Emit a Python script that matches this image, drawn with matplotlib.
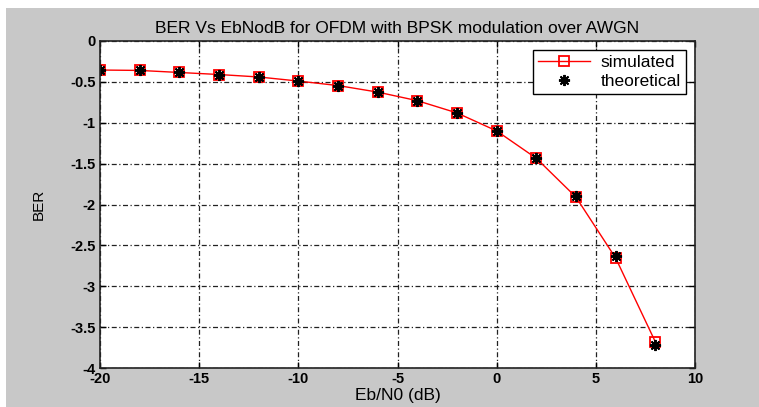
import matplotlib.pyplot as plt
from matplotlib.patches import Rectangle

# Eb/N0 en dB y BER (log10)
ebno_db = [-20, -18, -16, -14, -12, -10, -8, -6, -4, -2, 0, 2, 4, 6, 8]
ber_sim = [-0.355, -0.36, -0.385, -0.41, -0.44, -0.49, -0.545, -0.625, -0.73,
           -0.88, -1.10, -1.435, -1.91, -2.655, -3.68]
ber_teo = [-0.353, -0.36, -0.385, -0.41, -0.44, -0.49, -0.545, -0.625, -0.73,
           -0.88, -1.10, -1.43, -1.90, -2.625, -3.72]
x_ticks = [-20, -15, -10, -5, 0, 5, 10]
y_ticks = [-4, -3.5, -3, -2.5, -2, -1.5, -1, -0.5, 0]

plt.rcParams['font.family'] = ['Liberation Sans', 'DejaVu Sans']

fig = plt.figure(figsize=(7.59, 4.07), dpi=100, facecolor='white')
# fondo gris tipo MATLAB
fig.patches.append(Rectangle((6 / 759, 0), 1, 1 - 8 / 407, transform=fig.transFigure,
                             facecolor='#c8c8c8', edgecolor='none', zorder=-10))
ax = fig.add_axes([100 / 759, 1 - 368 / 407, 595 / 759, 327 / 407])

ax.plot(ebno_db, ber_sim, color='red', lw=1, marker='s', ms=7, mfc='none',
        mec='red', mew=1.3, label='simulated')
ax.plot(ebno_db, ber_teo, ls='none', marker=(8, 2, 0), ms=8, mec='black',
        mew=1.4, color='black', label='theoretical')

ax.set_xlim(-20, 10)
ax.set_ylim(-4, 0)
ax.set_xticks(x_ticks)
ax.set_yticks(y_ticks)
ax.set_xticklabels([str(t) for t in x_ticks])
ax.set_yticklabels(['%g' % t for t in y_ticks])
ax.tick_params(direction='in', length=4, width=1, labelsize=10.5, top=True, right=True,
               labeltop=False, labelright=False, pad=3)
for lab in ax.get_xticklabels() + ax.get_yticklabels():
    lab.set_fontweight('bold')
ax.grid(True, color='#222222', linestyle=(0, (4, 2, 1, 2)), linewidth=0.9)
for s in ax.spines.values():
    s.set_linewidth(1.2)
    s.set_color('#222222')

ax.set_title('BER Vs EbNodB for OFDM with BPSK modulation over AWGN', fontsize=12.5, pad=6)
ax.set_xlabel('Eb/N0 (dB)', fontsize=12.5, labelpad=1)
ax.set_ylabel('BER', fontsize=11, labelpad=18)

leg = ax.legend(loc='upper right', fontsize=12.5, fancybox=False, framealpha=1,
                edgecolor='black', borderaxespad=0.5, handlelength=3.0,
                borderpad=0.3, labelspacing=0.2, handletextpad=0.6)
leg.get_frame().set_linewidth(1.0)

plt.savefig('out.png', dpi=100)
